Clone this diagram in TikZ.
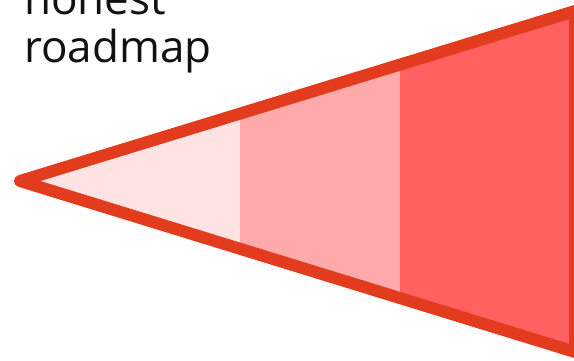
\documentclass[tikz,border=0pt]{standalone}
\usepackage{fontspec}
\setmainfont{Open Sans}
\usepackage{xcolor}
\definecolor{ConeEdge}{HTML}{E23B1E}
\definecolor{BandNear}{HTML}{FFE3E3}
\definecolor{BandMid}{HTML}{FFAAAA}
\definecolor{BandFar}{HTML}{FF6060}
\definecolor{Ink}{HTML}{111111}
\begin{document}
\begin{tikzpicture}[x=1pt,y=-1pt]
  \useasboundingbox (0,0) rectangle (574,361);
  % Vértice del cono y los dos extremos del lado derecho.
  \coordinate (apex) at (20,181);
  \coordinate (topR) at (575,11);
  \coordinate (botR) at (575,352);

  % Tres franjas de color, recortadas por el triángulo.
  \begin{scope}
    \clip (apex) -- (topR) -- (botR) -- cycle;
    \fill[BandNear] (0,0) rectangle (240,361);
    \fill[BandMid] (240,0) rectangle (400,361);
    \fill[BandFar] (400,0) rectangle (580,361);
  \end{scope}

  % Contorno grueso del cono.
  \draw[ConeEdge,line width=12pt,line join=round] (apex) -- (topR) -- (botR) -- cycle;

  \node[anchor=base west,inner sep=0pt,font=\fontsize{44}{48}\selectfont,Ink,align=left]
    (label) at (24,63) {honest\\roadmap};
\end{tikzpicture}
\end{document}
